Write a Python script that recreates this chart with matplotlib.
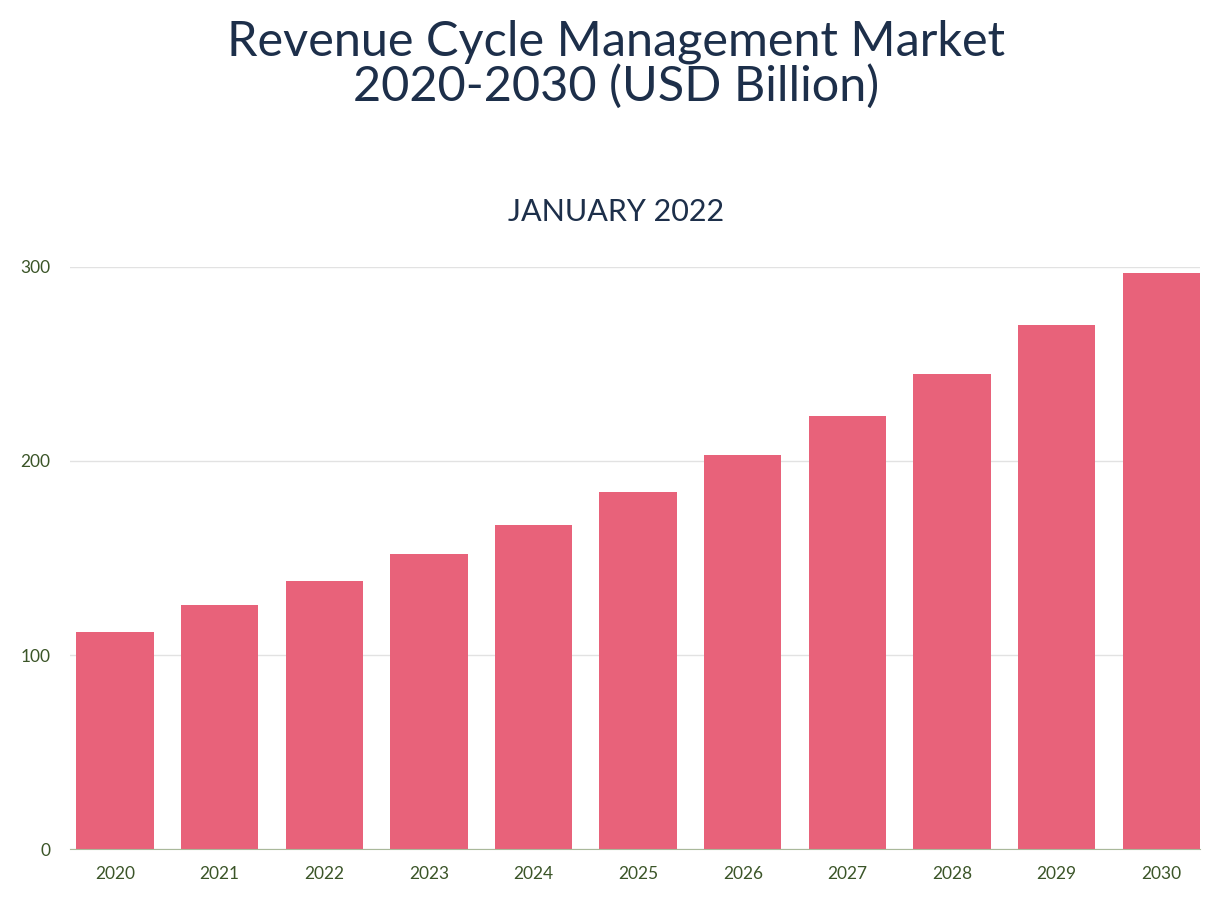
import matplotlib.pyplot as plt

years = ["2020", "2021", "2022", "2023", "2024", "2025", "2026", "2027", "2028", "2029", "2030"]
revenue = [112, 126, 138, 152, 167, 184, 203, 223, 245, 270, 297]
yticks = [0, 100, 200, 300]

plt.rcParams['font.family'] = ['Lato', 'DejaVu Sans']

fig = plt.figure(figsize=(12.32, 9.14), dpi=100)
ax = fig.add_axes([0.0568, 0.0711, 0.9172, 0.6368])

x = range(len(years))
ax.bar(x, revenue, width=0.74, color="#e8627a", zorder=2)
ax.set_xlim(-0.43, 10.37)
ax.set_ylim(0, 300)
ax.set_xticks(list(x))
ax.set_xticklabels(years)
ax.set_yticks(yticks)
ax.tick_params(axis='both', length=0, labelsize=12.5, colors="#3b5528")
ax.tick_params(axis='x', pad=12)
ax.tick_params(axis='y', pad=14)
ax.grid(axis='y', color="#e2e2e2", linewidth=1, zorder=0)
for s in ["top", "right", "left"]:
    ax.spines[s].set_visible(False)
ax.spines["bottom"].set_color("#a9b99a")

fig.text(0.5, 0.93, "Revenue Cycle Management Market\n2020-2030 (USD Billion)",
         ha='center', va='center', fontsize=35, color="#1d2f4a", linespacing=1.0)
fig.text(0.5, 0.768, "JANUARY 2022", ha='center', va='center', fontsize=22,
         color="#1d2f4a")

fig.savefig("out.png", dpi=100)
